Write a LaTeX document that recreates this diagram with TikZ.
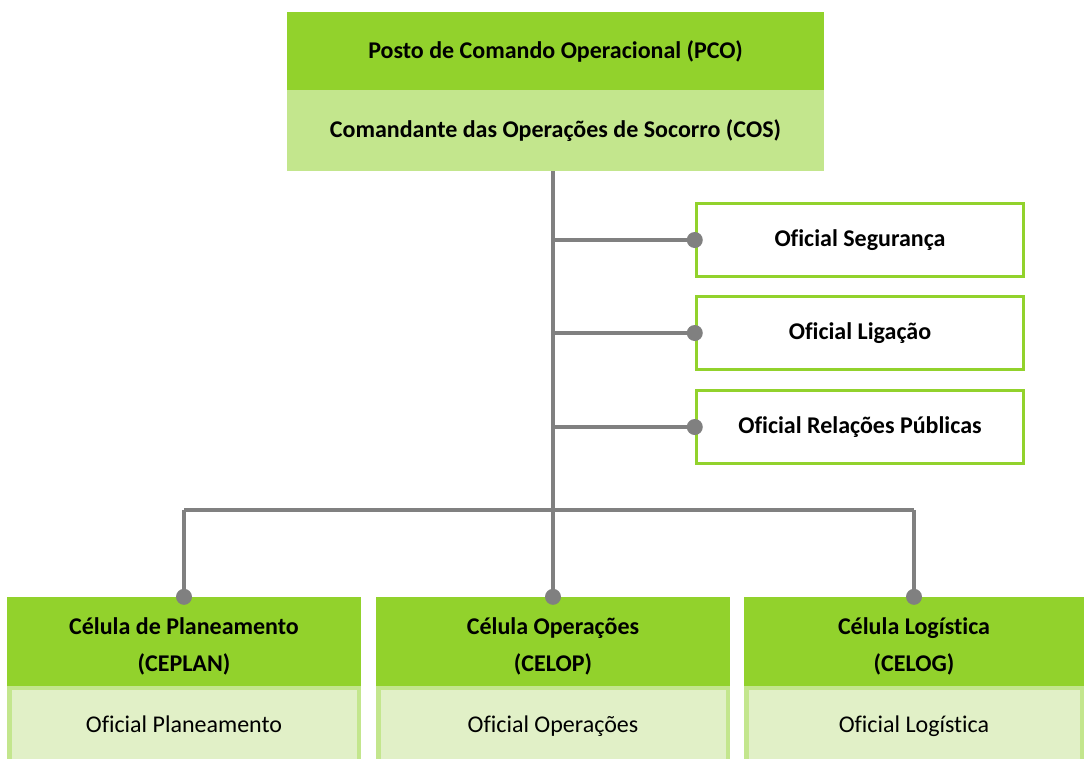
\documentclass[tikz,border=0pt]{standalone}
\usepackage{fontspec}
\setmainfont[Ligatures=NoCommon]{Carlito}
\definecolor{dkgreen}{HTML}{92D22C}
\definecolor{ltgreen}{HTML}{C3E68D}
\definecolor{vlgreen}{HTML}{E1F0C7}
\definecolor{lngray}{HTML}{808080}
\newcommand{\toppad}{\rule{0pt}{26pt}}
\tikzset{
  hdr/.style={fill=dkgreen, draw=none, inner sep=0pt, align=center, font=\fontsize{24}{37}\selectfont\bfseries},
  sub/.style={fill=ltgreen, draw=none, inner sep=0pt, align=center, font=\fontsize{24}{30}\selectfont\bfseries},
  offbox/.style={draw=dkgreen, line width=3.5pt, fill=white, inner sep=0pt, minimum width=327pt, minimum height=73pt, font=\fontsize{24}{30}\selectfont\bfseries},
  cellbox/.style={draw=ltgreen, line width=4.5pt, fill=vlgreen, inner sep=0pt, text height=17pt, text depth=5pt, font=\fontsize{24}{30}\selectfont},
  conn/.style={draw=lngray, line width=4pt},
  dot/.style={fill=lngray, circle, inner sep=0pt, minimum size=16pt}
}
\begin{document}
\begin{tikzpicture}[x=1pt,y=-1pt]
\useasboundingbox (0,0) rectangle (1084,758);
% top
\node[hdr, minimum width=537pt, minimum height=78pt] (pco) at (555.5,51) {Posto de Comando Operacional (PCO)};
\node[sub, minimum width=537pt, minimum height=81pt] (cos) at (555.5,130.5) {Comandante das Operações de Socorro (COS)};
\coordinate (spine) at (553,510);
% right officers
\node[offbox] (seg) at (860,240) {Oficial Segurança};
\node[offbox] (lig) at (860,333) {Oficial Ligação};
\node[offbox] (rp) at (860,427) {Oficial Relações Públicas};
% bottom cells
\node[hdr, minimum width=354pt, minimum height=89pt] (ceplan) at (184,641.5) {\toppad Célula de Planeamento\\(CEPLAN)};
\node[hdr, minimum width=354pt, minimum height=89pt] (celop) at (553,641.5) {\toppad Célula Operações\\(CELOP)};
\node[hdr, minimum width=340pt, minimum height=89pt] (celog) at (914,641.5) {\toppad Célula Logística\\(CELOG)};
\node[cellbox, minimum width=349.5pt, minimum height=76pt] (oplan) at (184,726) {Oficial Planeamento};
\node[cellbox, minimum width=349.5pt, minimum height=76pt] (oop) at (553,726) {Oficial Operações};
\node[cellbox, minimum width=335.5pt, minimum height=76pt] (olog) at (914,726) {Oficial Logística};
% connectors
\draw[conn] (cos.south -| spine) -- (spine);
\foreach \n in {seg,lig,rp}{
  \draw[conn] (\n.west -| spine) -- (\n.west);
  \node[dot] at (\n.west) {};
}
\draw[conn] (ceplan.north |- spine) -- (celog.north |- spine);
\foreach \n in {ceplan,celop,celog}{
  \draw[conn] (\n.north |- spine) -- (\n.north);
  \node[dot] at (\n.north) {};
}
\end{tikzpicture}
\end{document}
